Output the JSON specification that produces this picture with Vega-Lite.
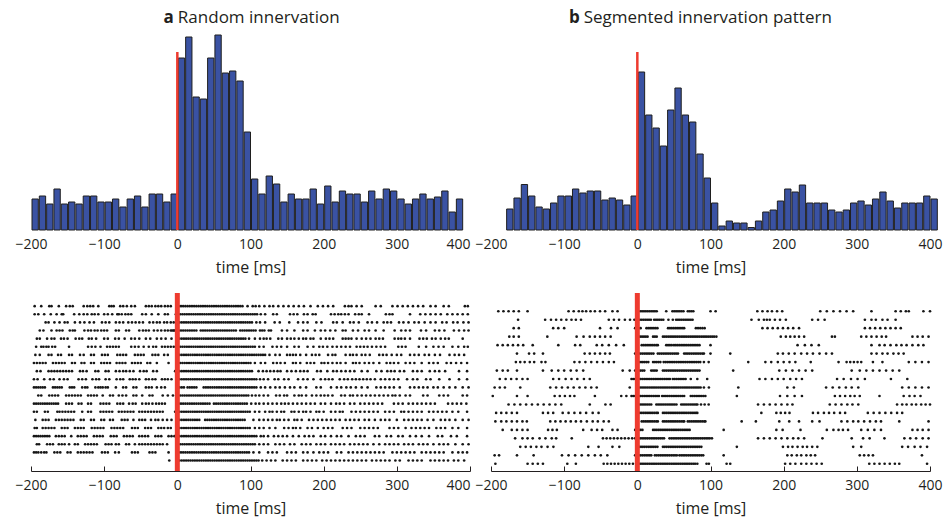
{
  "$schema": "https://vega.github.io/schema/vega-lite/v6.json",
  "background": "white",
  "padding": {"left": 14, "top": 9, "right": 2, "bottom": 2},
  "config": {
    "view": {"stroke": null},
    "font": "Open Sans",
    "axis": {"labelFont": "Open Sans", "titleFont": "Open Sans", "labelColor": "#231f20", "titleColor": "#231f20", "grid": false},
    "bar": {"binSpacing": 1}
  },
  "datasets": {
    "histA": [
      {"t": -200, "v": 31}, {"t": -190, "v": 34}, {"t": -180, "v": 26}, {"t": -170, "v": 41}, {"t": -160, "v": 26},
      {"t": -150, "v": 28}, {"t": -140, "v": 26}, {"t": -130, "v": 34}, {"t": -120, "v": 34}, {"t": -110, "v": 28},
      {"t": -100, "v": 28}, {"t": -90, "v": 31}, {"t": -80, "v": 23}, {"t": -70, "v": 31}, {"t": -60, "v": 34},
      {"t": -50, "v": 23}, {"t": -40, "v": 36}, {"t": -30, "v": 36}, {"t": -20, "v": 28}, {"t": -10, "v": 36},
      {"t": 0, "v": 172}, {"t": 10, "v": 193}, {"t": 20, "v": 133}, {"t": 30, "v": 131}, {"t": 40, "v": 172},
      {"t": 50, "v": 195}, {"t": 60, "v": 157}, {"t": 70, "v": 159}, {"t": 80, "v": 149}, {"t": 90, "v": 98},
      {"t": 100, "v": 51}, {"t": 110, "v": 36}, {"t": 120, "v": 54}, {"t": 130, "v": 46}, {"t": 140, "v": 28},
      {"t": 150, "v": 36}, {"t": 160, "v": 31}, {"t": 170, "v": 31}, {"t": 180, "v": 41}, {"t": 190, "v": 26},
      {"t": 200, "v": 44}, {"t": 210, "v": 28}, {"t": 220, "v": 39}, {"t": 230, "v": 36}, {"t": 240, "v": 36},
      {"t": 250, "v": 28}, {"t": 260, "v": 39}, {"t": 270, "v": 31}, {"t": 280, "v": 41}, {"t": 290, "v": 39},
      {"t": 300, "v": 31}, {"t": 310, "v": 26}, {"t": 320, "v": 31}, {"t": 330, "v": 36}, {"t": 340, "v": 31},
      {"t": 350, "v": 33}, {"t": 360, "v": 39}, {"t": 370, "v": 18}, {"t": 380, "v": 31}
    ],
    "histB": [
      {"t": -180, "v": 21}, {"t": -170, "v": 32}, {"t": -160, "v": 45.5}, {"t": -150, "v": 34}, {"t": -140, "v": 23},
      {"t": -130, "v": 21}, {"t": -120, "v": 27}, {"t": -110, "v": 34}, {"t": -100, "v": 34}, {"t": -90, "v": 41},
      {"t": -80, "v": 37}, {"t": -70, "v": 39}, {"t": -60, "v": 39}, {"t": -50, "v": 30}, {"t": -40, "v": 32},
      {"t": -30, "v": 30}, {"t": -20, "v": 25}, {"t": -10, "v": 34},
      {"t": 0, "v": 158}, {"t": 10, "v": 115}, {"t": 20, "v": 102}, {"t": 30, "v": 84}, {"t": 40, "v": 120},
      {"t": 50, "v": 142}, {"t": 60, "v": 115}, {"t": 70, "v": 108}, {"t": 80, "v": 76}, {"t": 90, "v": 52},
      {"t": 100, "v": 27}, {"t": 110, "v": 4}, {"t": 120, "v": 9}, {"t": 130, "v": 7}, {"t": 140, "v": 7},
      {"t": 150, "v": 2.5}, {"t": 160, "v": 9}, {"t": 170, "v": 18}, {"t": 180, "v": 20}, {"t": 190, "v": 29},
      {"t": 200, "v": 41}, {"t": 210, "v": 38}, {"t": 220, "v": 45}, {"t": 230, "v": 27}, {"t": 240, "v": 27},
      {"t": 250, "v": 27}, {"t": 260, "v": 20}, {"t": 270, "v": 18}, {"t": 280, "v": 20}, {"t": 290, "v": 27},
      {"t": 300, "v": 29}, {"t": 310, "v": 25}, {"t": 320, "v": 31}, {"t": 330, "v": 38}, {"t": 340, "v": 29},
      {"t": 350, "v": 22}, {"t": 360, "v": 27}, {"t": 370, "v": 27}, {"t": 380, "v": 27}, {"t": 390, "v": 34},
      {"t": 400, "v": 31}
    ],
    "rasterA": [
      {"trial": 1, "t": [-195,-186,-175,-172,-162,-152,-147,-143,-128,-123,-119,-115,-108,-93,-90,-87,-78,-74,-69,-63,-58,-43,-39,-35,-30,-26,-22,-17,-13,-9,2,5,8,11,14,17,20,23,26,29,32,35,38,41,44,47,50,53,56,59,62,65,68,71,74,77,80,83,86,89,96,103,107,112,119,126,131,138,145,152,159,166,173,182,192,199,206,213,229,234,238,245,252,271,278,294,301,308,315,322,329,336,346,353,364,371,393,397]},
      {"trial": 2, "t": [-195,-190,-182,-173,-165,-158,-156,-141,-134,-128,-123,-117,-113,-108,-100,-95,-89,-82,-80,-76,-71,-67,-63,-48,-43,-35,-26,-17,-13,-2,1,4,7,10,13,16,19,22,25,28,31,34,37,40,43,46,49,52,55,58,61,64,67,70,73,76,79,82,85,88,91,94,97,100,103,106,109,114,120,131,136,154,159,164,173,178,185,189,210,215,220,224,229,234,243,248,252,262,285,290,294,318,332,339,346,353,360,369,376,383,390,397]},
      {"trial": 3, "t": [-180,-176,-168,-161,-154,-150,-140,-133,-127,-120,-114,-103,-98,-93,-84,-79,-74,-67,-62,-57,-52,-47,-38,-33,-28,-24,-18,-14,-9,-5,3,6,9,12,15,18,21,24,27,30,33,36,39,42,45,48,51,54,57,60,63,66,69,72,75,78,81,84,87,90,93,96,99,102,108,113,120,133,140,153,165,172,178,190,197,213,218,226,236,241,248,260,266,273,282,287,292,303,309,316,324,330,338,346,353,362,368,377,383,391,398]},
      {"trial": 4, "t": [-188,-183,-172,-165,-161,-157,-147,-143,-140,-127,-122,-118,-113,-109,-104,-100,-96,-84,-80,-70,-66,-52,-47,-43,-39,-32,-27,-22,-17,-13,-9,-5,-7,-4,-1,2,5,8,11,14,17,20,23,26,32,35,38,41,44,47,50,53,56,59,62,65,68,71,74,77,80,86,89,92,95,98,101,104,107,113,116,119,125,128,143,150,160,172,178,188,196,202,209,216,226,230,240,247,256,262,271,282,297,306,312,318,333,340,352,358,365,378,385,392,398]},
      {"trial": 5, "t": [-192,-188,-178,-172,-168,-159,-155,-150,-139,-134,-130,-121,-117,-111,-100,-95,-85,-80,-72,-63,-58,-52,-43,-37,-28,-22,-16,-8,0,3,6,9,12,15,18,21,24,27,30,33,36,39,42,45,48,51,54,57,60,63,66,69,72,75,78,81,84,87,90,93,98,106,113,118,122,127,138,143,150,155,160,166,172,176,182,186,196,203,208,213,226,230,234,238,245,252,258,264,271,276,281,297,302,306,311,318,331,336,341,348,353,360,366,371,390]},
      {"trial": 6, "t": [-193,-186,-183,-179,-176,-171,-167,-148,-122,-117,-112,-105,-96,-92,-88,-84,-80,-63,-58,-53,-46,-39,-33,-29,-21,-17,-13,-9,-5,-2,1,4,7,10,13,16,19,22,25,28,31,34,37,40,43,46,49,52,55,58,61,64,67,70,73,76,79,82,85,88,91,94,97,100,103,106,112,118,130,136,142,150,160,166,178,186,194,199,205,212,218,224,230,236,245,250,255,260,266,272,278,284,302,307,312,330,340,350,357,364,376,384,392,397]},
      {"trial": 7, "t": [-194,-188,-176,-172,-163,-159,-148,-144,-133,-128,-118,-114,-103,-99,-95,-82,-78,-74,-70,-58,-54,-50,-46,-34,-30,-26,-18,-13,0,3,6,9,12,15,18,21,24,27,30,33,36,39,42,45,48,51,54,57,60,63,66,69,72,75,78,81,84,87,90,93,96,99,102,105,108,111,114,117,120,126,134,140,150,154,158,162,168,176,184,189,194,206,212,216,230,236,240,245,252,257,263,276,281,286,293,300,306,318,324,330,338,344,352,359,372,379,385,392]},
      {"trial": 8, "t": [-196,-192,-188,-184,-180,-170,-166,-162,-158,-154,-144,-140,-131,-127,-118,-114,-104,-100,-96,-92,-83,-79,-75,-71,-62,-58,-54,-50,-41,-37,-28,-12,1,4,7,10,13,16,19,22,25,28,31,34,37,40,43,46,49,52,55,58,61,64,67,70,73,76,79,82,85,88,91,94,97,100,106,114,120,131,136,141,147,158,162,168,177,182,187,197,201,206,212,218,223,230,240,244,249,256,262,268,276,286,291,296,302,312,318,324,334,344,350,356,368,374,381,388,396]},
      {"trial": 9, "t": [-192,-187,-176,-172,-168,-164,-160,-156,-152,-148,-144,-133,-129,-124,-112,-108,-98,-94,-84,-79,-74,-70,-65,-60,-51,-46,-42,-33,-28,-3,0,3,6,9,12,15,18,21,24,27,30,33,36,39,42,45,48,51,54,57,60,63,66,69,72,75,78,81,84,87,90,93,96,99,102,111,117,122,127,132,137,141,150,156,162,168,173,178,191,196,205,213,218,224,230,236,242,252,260,272,279,287,292,297,304,310,322,328,334,345,352,358,366,385,396]},
      {"trial": 10, "t": [-196,-191,-182,-174,-169,-161,-155,-150,-135,-130,-125,-116,-111,-107,-98,-93,-83,-78,-74,-65,-61,-57,-52,-43,-39,-34,-30,-21,-17,-13,-8,0,3,6,9,12,15,18,21,24,27,30,33,36,39,42,45,48,51,54,57,60,63,66,69,72,75,78,81,84,87,90,93,96,99,102,105,108,113,118,124,133,138,146,152,165,172,178,186,196,202,207,212,222,228,233,239,244,249,254,259,264,270,278,284,290,296,302,314,322,328,340,346,358,372,385,396]},
      {"trial": 11, "t": [-196,-193,-190,-187,-184,-181,-170,-167,-164,-161,-158,-147,-144,-141,-130,-126,-123,-112,-108,-105,-102,-98,-95,-84,-74,-70,-60,-56,-43,-39,-35,-28,-22,-17,3,6,9,14,17,20,23,26,36,39,42,45,48,51,54,57,60,63,66,69,72,75,78,81,84,87,90,93,96,99,102,105,108,114,120,127,134,140,147,154,160,168,176,190,196,210,218,224,231,237,244,252,260,272,278,284,290,296,304,318,324,330,336,342,350,356,364,372,380,390,398]},
      {"trial": 12, "t": [-190,-186,-175,-171,-167,-163,-152,-148,-144,-140,-136,-132,-122,-118,-114,-110,-102,-92,-88,-80,-75,-70,-60,-56,-48,-38,-34,-20,-13,-6,1,4,7,10,13,16,19,22,25,28,31,34,37,40,43,46,49,52,55,58,61,64,67,70,73,76,79,82,85,88,91,94,97,102,107,112,118,124,135,140,146,150,160,166,170,176,184,190,196,201,206,212,224,229,236,240,246,252,258,264,270,276,282,288,294,298,304,312,318,336,342,358,364,370,390,396]},
      {"trial": 13, "t": [-196,-193,-190,-187,-184,-181,-178,-175,-172,-169,-166,-163,-152,-148,-144,-135,-131,-122,-118,-105,-101,-97,-93,-82,-78,-74,-66,-61,-57,-48,-43,-39,-34,-29,-25,-21,-17,2,5,8,11,14,17,20,23,26,29,32,35,38,41,44,50,53,56,59,62,65,68,71,74,77,80,83,86,89,92,95,101,107,112,118,124,130,136,142,147,152,158,164,170,176,182,188,196,202,210,217,222,228,236,242,250,256,262,268,274,280,296,302,308,316,322,328,334,340,346,352,370,376,382,388,395]},
      {"trial": 14, "t": [-196,-192,-181,-177,-164,-161,-157,-153,-149,-145,-141,-130,-122,-118,-105,-101,-97,-93,-89,-80,-76,-72,-68,-64,-60,-52,-48,-44,-40,-36,-32,-28,-24,-20,-3,0,3,6,9,12,15,18,21,24,27,30,33,36,39,42,45,48,51,54,57,60,63,66,69,72,75,78,81,84,87,90,93,96,99,106,112,120,126,130,136,142,146,156,160,166,172,176,182,190,194,200,210,216,222,226,238,244,250,256,262,268,274,284,290,296,306,310,316,322,328,334,344,350,356,362,368,376,384,396]},
      {"trial": 15, "t": [-194,-184,-180,-176,-166,-162,-158,-154,-150,-146,-142,-132,-128,-118,-114,-104,-100,-92,-88,-76,-72,-68,-60,-52,-48,-44,-36,-30,-26,-20,-14,-8,3,6,9,12,15,18,21,24,27,30,38,41,44,47,50,53,56,59,62,65,68,71,74,77,80,83,86,89,92,104,112,118,124,130,136,140,146,152,160,164,170,180,186,192,198,204,210,216,222,230,236,242,248,256,262,270,278,284,290,300,310,316,322,328,334,342,350,360,366,372,380,390,398]},
      {"trial": 16, "t": [-195,-192,-184,-180,-176,-172,-168,-158,-154,-150,-140,-136,-132,-128,-117,-113,-109,-105,-101,-90,-86,-82,-78,-74,-62,-58,-54,-44,-40,-36,-26,-22,-18,-13,-9,3,6,9,12,15,18,21,24,27,30,33,36,39,42,45,48,51,54,57,60,63,66,69,72,75,78,81,84,87,90,93,96,99,106,112,118,126,134,146,152,158,162,168,178,184,192,200,206,212,226,232,238,250,256,262,268,274,290,296,302,312,320,326,332,338,344,354,360,366,376,384,396]},
      {"trial": 17, "t": [-196,-193,-190,-187,-184,-181,-178,-175,-166,-162,-158,-154,-145,-136,-132,-128,-124,-114,-110,-106,-102,-91,-87,-83,-73,-69,-65,-61,-52,-48,-44,-40,-30,-26,-22,-12,-8,-4,0,3,6,9,12,15,18,21,24,27,30,33,36,39,42,45,48,51,54,57,60,63,66,69,72,75,78,81,84,87,90,93,96,99,102,105,108,114,118,124,132,138,144,150,158,166,174,180,186,196,202,210,218,224,234,244,250,256,270,276,286,292,302,308,318,326,334,344,356,362,374,382,396]},
      {"trial": 18, "t": [-192,-189,-178,-174,-170,-162,-158,-154,-148,-140,-136,-126,-122,-118,-114,-110,-98,-94,-90,-84,-80,-70,-66,-58,-52,-48,-44,-40,-36,-32,-28,-24,-20,-14,1,4,7,10,13,16,19,22,25,28,31,34,37,40,43,46,49,52,55,58,61,64,67,70,73,76,79,82,85,88,91,94,97,100,103,106,112,118,124,134,140,146,154,160,170,176,182,190,196,202,210,216,222,228,236,242,248,254,260,268,276,284,290,296,302,310,316,322,330,336,342,350,358,364,370,380,390,398]},
      {"trial": 19, "t": [-196,-193,-190,-186,-182,-179,-168,-164,-160,-150,-146,-136,-132,-128,-124,-120,-116,-103,-99,-95,-85,-80,-62,-58,-54,-38,-34,-30,-12,2,5,8,11,14,17,20,23,26,29,32,35,38,41,44,47,50,53,56,59,62,65,68,71,74,77,80,83,86,89,92,95,98,104,112,124,130,136,150,156,162,172,178,186,194,200,206,218,224,234,240,246,252,258,264,270,276,282,294,300,306,312,318,324,334,340,346,352,358,364,376,384,390,396]},
      {"trial": 20, "t": [-11,3,6,9,12,15,18,21,24,27,30,33,36,39,42,45,48,51,54,57,60,63,66,69,72,75,78,81,84,87,90,93,96,99,102,105,108,111,116,122,128,134,144,150,156,162,172,178,184,190,198,204,210,216,222,228,234,240,246,252,258,266,272,278,284,290,298,304,316,322,328,334,346,352,358,364,370,378,384,392]}
    ],
    "rasterB": [
      {"trial": 1, "t": [-190,-183,-176,-169,-162,-150,-94,-87,-80,-75,-70,-64,-58,-51,-44,-34,-27,4,6.5,9,11.5,14,16.5,19,21.5,24,26.5,39.5,48,50.5,53,55.5,58,60.5,63,69,71.5,74,76.5,100,107,164,171,178,184,191,198,250,259,268,277,286,295,320,353,360,367,371,391,400]},
      {"trial": 2, "t": [-163,-126,-118,-111,-104,-97,-90,-84,-77,-39,-32,-25,-17,-10,-4,1,3.5,6,8.5,11,13.5,16,18.5,23,25.5,28,30.5,33,35.5,42.5,48.5,53,55.5,58,60.5,63,65.5,68,70.5,73,75.5,156,166,173,177,181,188,195,203,239,247,256,311,320,326,335,342,353]},
      {"trial": 3, "t": [-169,-162,-115,-108,-100,-51,-36,-27,-3,-0.5,2,4.5,12.5,15,17.5,20,22.5,25,27.5,42,44.5,47,49.5,52,54.5,57,59.5,62,64,80,83,86,89,92,171,178,185,192,199,206,213,221,311,318,325,332,339,346,353,360]},
      {"trial": 4, "t": [-175,-169,-162,-123,-83,-73.5,-65,-58,-51,-44,-36.5,-1,1.5,4,6.5,9,11.5,14,21.5,24,26.5,35,37.5,40,42.5,45,47.5,50,52.5,55,57.5,60,62.5,65,67.5,70,72.5,75,77.5,80,82.5,85,87.5,90,92.5,95,97.5,100,102.5,105,108,196,203,209,215,221,228,266,270,306,313,320,327,334,340,376,383,390,398]},
      {"trial": 5, "t": [-191,-184,-177,-170,-163,-156,-143,-108,-85,-78,-55.5,-48,-39,-29,-18.5,6,8.5,11,13.5,16,18.5,21,23.5,26,28,39.5,42,44.5,47,50,52.5,55,57.5,60,62.5,65,67.5,70,72.5,75,77.5,80,82.5,85,100,219,229,238,248,320,331,338,346,354,361,368,376,384,391]},
      {"trial": 6, "t": [-164.5,-148,-141,-129,-72,-65,-58,-51,-44,-37.5,-3,-0.5,2,4.5,7,9.5,12,14.5,17,19.5,22,28,30.5,33,35.5,38,40.5,43,45.5,48,50.5,53,55.5,64,66.5,69,71.5,74,76.5,79,81.5,84,86.5,89,91,100,127,192,199,207,215,224,232,240,249,258,266,320,327,335,342,350,357,364]},
      {"trial": 7, "t": [-166,-160,-154,-147,-141,-131,-125.6,-86,-79,-71,-63,-55,-47,-39,-32,0,2.5,5,7.5,10,12.5,15,21.5,24,26.5,29,31.5,36,38.5,41,43.5,46,48.5,51,53.5,56,58.5,61,63.5,66,68.5,71,73.5,76,78.5,81,83.5,86,91,97.5,151.6,175,183,192,200,208,216,237,275,286,291,296,301,306,322,335,371,380,389,398]},
      {"trial": 8, "t": [-192,-184,-177,-164.5,-129,-117,-108,-100,-91,-83,-74,-20,-10.4,-3,-0.5,2,4.5,7,9.5,19,21.5,24,26.5,35,37.5,40,42.5,45,47.5,50,52.5,55,57.5,60,62.5,65,67.5,70,72.5,75,77.5,80,82.5,85,131,194,203,212,221,230,239,293,304,313,322,331,340,349,358]},
      {"trial": 9, "t": [-188,-180,-172.5,-165,-157,-150,-115,-107,-98,-90,-82,-73,-65,-8,-5.5,-3,-0.5,2,4.5,7,9.5,12,14.5,17,19.5,22,24.5,27,29.5,32,34.5,37,39.5,42,44.5,48.5,51,53.5,56,58.5,61,63.5,66,73,82,95.5,167,175,184,192,200,209,217,225,273,282,292,301,311,346.6,369]},
      {"trial": 10, "t": [-195,-188,-181,-160,-119,-111,-103,-95,-87,-79,-71,-63,-55.5,-10.4,-1,1.5,4,6.5,9,11.5,14,16.5,19,21.5,24,26.5,29,31.5,34,36.5,39,41.5,44,46.5,49,51.5,54,56.5,59,61.5,64,66.5,69,71.5,74,76.5,79,81.5,84,86.5,91,97.8,138,205,214,258,267,276,285,293,302,362,371,380,389,398]},
      {"trial": 11, "t": [-197.6,-164.5,-150,-113,-106,-99,-92,-86,-58,-22,-15,-8,-5.5,-3,-0.5,2,4.5,7,9.5,12,14.5,17,19.5,22,24.5,27,29.5,34,36.5,39,41.5,44,46.5,49,51.5,54,56.5,59,61.5,64,73,75.5,78,80.5,83,85.5,88,90.5,93,136,195,205,215,225,270,277,284,291,297,304,331,364,372,379,387]},
      {"trial": 12, "t": [-176,-168,-160,-152,-144,-136,-128,-120,-112,-104,-65,-43.6,-36.5,-1,1.5,4,6.5,9,11.5,14,16.5,19,26,28.5,31,33.5,36,38.5,41,43.5,46,48.5,51,53.5,60,62.5,65,67.5,70,72.5,75,77.5,80,82,87,92,97.5,165,173,181,189,197,205,212,263,271,279,287,294,302,355,362,368,375,381,388,394,400]},
      {"trial": 13, "t": [-193,-186,-179,-171.6,-164.5,-129,-122,-115,-102,-94,-86,-78,-70,-61,-53,1,3.5,6,8.5,11,13.5,16,18.5,21,23.5,26,28,35,37.5,40,42.5,45,47.5,50,52.5,55,57.5,60,62.5,65,67.5,70,72.5,75,77.5,80,82,169.5,190,196,202,208,240,247,255,262,269,277,284,315,323,331,339,347,355,362]},
      {"trial": 14, "t": [-194,-186,-179,-171.6,-164.5,-157,-151,-119,-112,-105,-98,-91,-84,-77,-69,-61,-54,-46,-39,6,8.5,11,13.5,16,18.5,21,23.5,26,28,35,37.5,40,42.5,45,47.5,50,52.5,55,57.5,60,62.5,64,69,71.5,74,76.5,79,81.5,84,86.5,89,91.5,93,142.6,162,194,207.6,221,239,249,279,287,295,302,310,318,326,333,358,398]},
      {"trial": 15, "t": [-184,-171.6,-164.5,-157,-150,-122,-116,-110,-74,-62.5,-55,-48,-34,-27,-3,-0.5,2,4.5,7,21.5,24,26.5,29,31.5,34,36.5,39,41.5,44,46.5,49,51.5,54,56.5,59,61.5,64,66.5,69,71.5,118,190,198.6,223,259,268,275,281,288,306,315,324,333,376,383,390,398]},
      {"trial": 16, "t": [-167,-157,-150,-143,-133.6,-125.6,-117,-111,-89.6,-47,-42,-37,-32,-27,-22,-17,-12,-7,-3,-1,1.5,4,6.5,9,11.5,14,16.5,19,21.5,24,26.5,29,31.5,34,36.5,44,46.5,49,51.5,54,56.5,59,61.5,64,66.5,69,71.5,74,76.5,79,81.5,84,86.5,89,91.5,94,96.5,99,102,165,173,181,189,197,205,213,220,228,253,293,308.5,317.5,337.7,365,373,381,390,398]},
      {"trial": 17, "t": [-160,-152.6,-145.5,-138,-131,-122.7,-114.7,-67,-53,-34,-24.6,0,2.5,5,7.5,10,12.5,15,17.5,20,22.5,25,27.5,35,37.5,40,42.5,45,47.5,50,52.5,55,57.5,60,62.5,65,67.5,70,72.5,75,77.5,80,82.5,85,87.5,136,199,206,212,219,226,232,239,246,295,306,362,370,379,387,396]},
      {"trial": 18, "t": [-195,-189,-164.5,-141.7,-103,-94,-85,-76,-67,-58,-50,-41,-3,-0.5,2,4.5,7,9.5,12,14.5,17,19,24,26.5,29,31.5,34,36.5,39,41.5,44,46.5,49,51.5,54,57.5,60,62.5,65,67.5,70,72.5,75,77.5,80,82.5,85,87.5,90,118,205,211,218,224,231,237,243,304,310,316,322,389]},
      {"trial": 19, "t": [-194,-150,-143,-136,-129,-95.7,-84,-46,-41,-36,-31,-26,-21,-16,-11,-6,-1,1.5,4,6.5,9,11.5,14,16.5,19,21.5,24,26.5,29,31.5,34,36.5,39,41.5,44,46.5,49,51.5,54,56.5,59,61.5,64,66.5,69,71.5,74,76.5,79,82,94.6,97.8,122,127,202,209,216,224,231,238,245,252,317,324,331,338,345,352,358,396]}
    ]
  },
  "columns": 2,
  "spacing": {"row": 63, "column": 21},
  "bounds": "flush",
  "concat": [
    {
      "width": 439,
      "height": 200,
      "layer": [
        {
          "data": {"name": "histA"},
          "mark": {"type": "bar", "fill": "#3a52a3", "stroke": "#1f1f1f", "strokeWidth": 1},
          "encoding": {
            "x": {
              "field": "t", "type": "quantitative", "bin": {"binned": true, "step": 10},
              "scale": {"domain": [-200, 400], "nice": false, "zero": false},
              "title": "time [ms]",
              "axis": {
                "values": [-200, -100, 0, 100, 200, 300, 400], "domain": false, "ticks": false,
                "labelPadding": 7, "labelFontSize": 14, "labelOverlap": false, "labelBound": false, "labelFlush": false,
                "labelAlign": {"condition": {"test": "datum.value == 400", "value": "right"}, "value": "center"},
                "titleFontSize": 16, "titleFontWeight": "normal", "titlePadding": 8
              }
            },
            "y": {"field": "v", "type": "quantitative", "scale": {"domain": [0, 200]}, "axis": null}
          }
        },
        {
          "data": {"values": [{}]},
          "mark": {"type": "rule", "color": "#ee3b2f", "strokeWidth": 2.5},
          "encoding": {"x": {"datum": 0}, "y": {"datum": 0}, "y2": {"datum": 178}}
        },
        {
          "data": {"values": [{}]},
          "mark": {"type": "text", "text": "a", "fontWeight": "bold", "fontSize": 17, "align": "right", "baseline": "alphabetic", "dx": -2, "color": "#231f20"},
          "encoding": {"x": {"datum": -2}, "y": {"datum": 207}}
        },
        {
          "data": {"values": [{}]},
          "mark": {"type": "text", "text": "Random innervation", "fontSize": 17, "align": "left", "baseline": "alphabetic", "dx": 2, "color": "#231f20"},
          "encoding": {"x": {"datum": -2}, "y": {"datum": 207}}
        }
      ]
    },
    {
      "width": 439,
      "height": 200,
      "layer": [
        {
          "data": {"name": "histB"},
          "mark": {"type": "bar", "fill": "#3a52a3", "stroke": "#1f1f1f", "strokeWidth": 1},
          "encoding": {
            "x": {
              "field": "t", "type": "quantitative", "bin": {"binned": true, "step": 10},
              "scale": {"domain": [-200, 400], "nice": false, "zero": false},
              "title": "time [ms]",
              "axis": {
                "values": [-200, -100, 0, 100, 200, 300, 400], "domain": false, "ticks": false,
                "labelPadding": 7, "labelFontSize": 14, "labelOverlap": false, "labelBound": false, "labelFlush": false,
                "titleFontSize": 16, "titleFontWeight": "normal", "titlePadding": 8
              }
            },
            "y": {"field": "v", "type": "quantitative", "scale": {"domain": [0, 200]}, "axis": null}
          }
        },
        {
          "data": {"values": [{}]},
          "mark": {"type": "rule", "color": "#ee3b2f", "strokeWidth": 2.5},
          "encoding": {"x": {"datum": 0}, "y": {"datum": 0}, "y2": {"datum": 178}}
        },
        {
          "data": {"values": [{}]},
          "mark": {"type": "text", "text": "b", "fontWeight": "bold", "fontSize": 17, "align": "right", "baseline": "alphabetic", "dx": -2, "color": "#231f20"},
          "encoding": {"x": {"datum": -76}, "y": {"datum": 207}}
        },
        {
          "data": {"values": [{}]},
          "mark": {"type": "text", "text": "Segmented innervation pattern", "fontSize": 17, "align": "left", "baseline": "alphabetic", "dx": 2, "color": "#231f20"},
          "encoding": {"x": {"datum": -76}, "y": {"datum": 207}}
        }
      ]
    },
    {
      "width": 439,
      "height": 178,
      "layer": [
        {
          "data": {"name": "rasterA"},
          "transform": [{"flatten": ["t"]}],
          "mark": {"type": "circle", "size": 7, "color": "#161616", "opacity": 1},
          "encoding": {
            "x": {
              "field": "t", "type": "quantitative",
              "scale": {"domain": [-200, 400], "nice": false, "zero": false},
              "title": "time [ms]",
              "axis": {
                "values": [-200, -100, 0, 100, 200, 300, 400], "domain": true, "domainColor": "#231f20", "domainWidth": 1,
                "ticks": true, "tickSize": -5, "tickColor": "#231f20", "tickWidth": 1,
                "labelPadding": 12, "labelFontSize": 14, "labelOverlap": false, "labelBound": false, "labelFlush": false,
                "labelAlign": {"condition": {"test": "datum.value == 400", "value": "right"}, "value": "center"},
                "titleFontSize": 16, "titleFontWeight": "normal", "titlePadding": 8
              }
            },
            "y": {"field": "trial", "type": "quantitative", "scale": {"domain": [-0.62, 21.29], "reverse": true, "nice": false, "zero": false}, "axis": null}
          }
        },
        {
          "data": {"values": [{}]},
          "mark": {"type": "rule", "color": "#ee3b2f", "strokeWidth": 5},
          "encoding": {"x": {"datum": 0}}
        }
      ]
    },
    {
      "width": 439,
      "height": 178,
      "layer": [
        {
          "data": {"name": "rasterB"},
          "transform": [{"flatten": ["t"]}],
          "mark": {"type": "circle", "size": 7, "color": "#161616", "opacity": 1},
          "encoding": {
            "x": {
              "field": "t", "type": "quantitative",
              "scale": {"domain": [-200, 400], "nice": false, "zero": false},
              "title": "time [ms]",
              "axis": {
                "values": [-200, -100, 0, 100, 200, 300, 400], "domain": true, "domainColor": "#231f20", "domainWidth": 1,
                "ticks": true, "tickSize": -5, "tickColor": "#231f20", "tickWidth": 1,
                "labelPadding": 12, "labelFontSize": 14, "labelOverlap": false, "labelBound": false, "labelFlush": false,
                "titleFontSize": 16, "titleFontWeight": "normal", "titlePadding": 8
              }
            },
            "y": {"field": "trial", "type": "quantitative", "scale": {"domain": [-1.15, 19.85], "reverse": true, "nice": false, "zero": false}, "axis": null}
          }
        },
        {
          "data": {"values": [{}]},
          "mark": {"type": "rule", "color": "#ee3b2f", "strokeWidth": 5},
          "encoding": {"x": {"datum": 0}}
        }
      ]
    }
  ]
}
